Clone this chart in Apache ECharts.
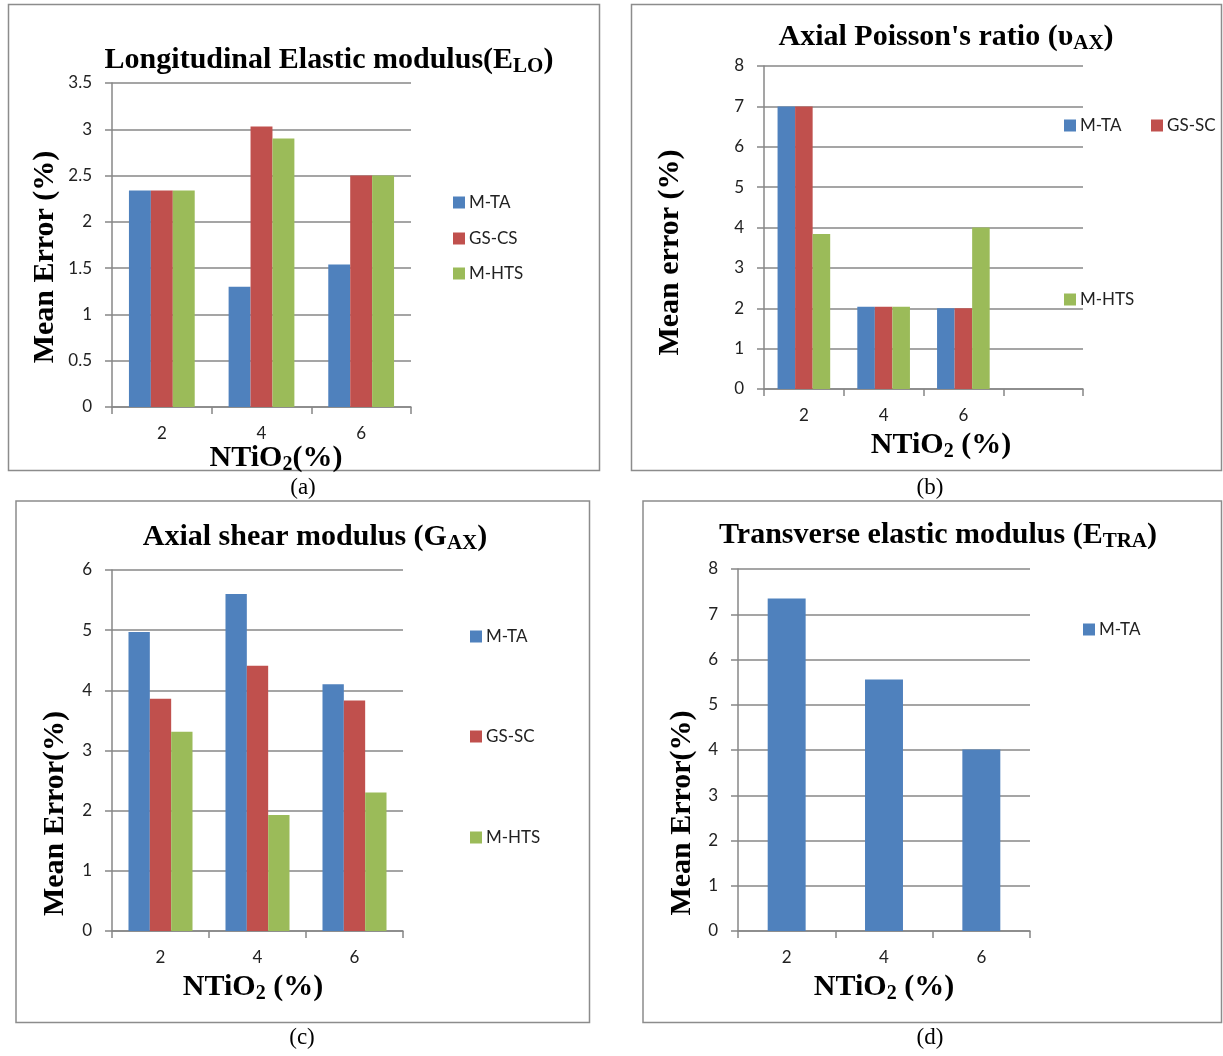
<!DOCTYPE html>
<html>
<head>
<meta charset="utf-8">
<script src="https://cdn.jsdelivr.net/npm/echarts@6/dist/echarts.min.js"></script>
<style>
  html, body { margin: 0; padding: 0; background: #fff; }
  #main { width: 1223px; height: 1056px; }
</style>
</head>
<body>
<div id="main"></div>
<script>
// categories (NTiO2 %)
var catsA = ['2', '4', '6'];
var catsB = ['2', '4', '6', ''];
var catsC = ['2', '4', '6'];
var catsD = ['2', '4', '6'];

// (a) Longitudinal Elastic modulus
var aMTA  = [2.34, 1.30, 1.54];
var aGSCS = [2.34, 3.03, 2.50];
var aMHTS = [2.34, 2.90, 2.50];
// (b) Axial Poisson's ratio
var bMTA  = [7.00, 2.04, 2.00, null];
var bGSSC = [7.00, 2.04, 2.00, null];
var bMHTS = [3.84, 2.04, 4.00, null];
// (c) Axial shear modulus
var cMTA  = [4.97, 5.60, 4.10];
var cGSSC = [3.86, 4.41, 3.83];
var cMHTS = [3.31, 1.93, 2.30];
// (d) Transverse elastic modulus
var dMTA  = [7.35, 5.56, 4.01];

var BLUE = '#4F81BD', RED = '#C0504D', GREEN = '#9BBB59';
var GRAY = '#878787';
var SERIF = 'Liberation Serif';
var SANS = 'Lato';

var chart = echarts.init(document.getElementById('main'));

function richTitle() {
  return {
    t: { fontFamily: SERIF, fontWeight: 'bold', fontSize: 30, color: '#000', lineHeight: 34 },
    s: { fontFamily: SERIF, fontWeight: 'bold', fontSize: 21, color: '#000', lineHeight: 18, verticalAlign: 'bottom' }
  };
}

function title(text, x, y) {
  return { text: text, left: x, top: y - 15, textAlign: 'center', padding: 0,
    textStyle: { rich: richTitle() } };
}
function caption(text, x, y) {
  return { text: text, left: x, top: y - 12, textAlign: 'center', padding: 0,
    textStyle: { fontFamily: SERIF, fontWeight: 'normal', fontSize: 23, color: '#000' } };
}

function yAx(gi, max, interval, name, gap, padRight) {
  return {
    type: 'value', gridIndex: gi, min: 0, max: max, interval: interval,
    axisLine: { show: true, lineStyle: { color: GRAY, width: 1.5 } },
    axisTick: { show: true, length: 7, lineStyle: { color: GRAY, width: 1.5 } },
    splitLine: { lineStyle: { color: GRAY, width: 1.5 } },
    axisLabel: { margin: 20, fontFamily: SANS, fontSize: 17, color: '#222' },
    name: name, nameLocation: 'middle', nameGap: gap, nameRotate: 90,
    nameTextStyle: { fontFamily: SERIF, fontWeight: 'bold', fontSize: 30, color: '#000',
      padding: [0, padRight, 0, 0] }
  };
}

function xAx(gi, data, name, gap, pad) {
  return {
    type: 'category', gridIndex: gi, data: data,
    axisLine: { lineStyle: { color: GRAY, width: 1.5 } },
    axisTick: { show: true, length: 7, lineStyle: { color: GRAY, width: 1.5 } },
    axisLabel: { margin: 18, interval: 0, fontFamily: SANS, fontSize: 17, color: '#222' },
    name: name, nameLocation: 'middle', nameGap: gap,
    nameTextStyle: {
      padding: pad,
      rich: {
        n: { fontFamily: SERIF, fontWeight: 'bold', fontSize: 30, color: '#000', lineHeight: 34 },
        s: { fontFamily: SERIF, fontWeight: 'bold', fontSize: 20, color: '#000', lineHeight: 18, verticalAlign: 'bottom' }
      }
    }
  };
}

function bar(name, gi, data, color, gap) {
  return {
    type: 'bar', name: name, xAxisIndex: gi, yAxisIndex: gi, data: data,
    barGap: 0, barCategoryGap: gap, itemStyle: { color: color }
  };
}

function leg(name, x, y) {
  return {
    data: [name], left: x, top: y - 10, padding: 0, selectedMode: false,
    itemWidth: 12, itemHeight: 12, itemGap: 4, icon: 'rect',
    textStyle: { fontFamily: SANS, fontSize: 17, color: '#222', padding: [0, 0, 0, -1] }
  };
}

function box(x1, y1, x2, y2) {
  return { type: 'rect', silent: true, z: -1,
    shape: { x: x1, y: y1, width: x2 - x1, height: y2 - y1 },
    style: { fill: 'none', stroke: '#8c8c8c', lineWidth: 1.5 } };
}

var option = {
  animation: false,
  backgroundColor: '#fff',
  title: [
    title('{t|Longitudinal Elastic modulus(E}{s|LO}{t|)}', 329, 58),
    title('{t|Axial Poisson\'s ratio (\u03c5}{s|AX}{t|)}', 946, 35),
    title('{t|Axial shear modulus (G}{s|AX}{t|)}', 315, 535),
    title('{t|Transverse elastic modulus (E}{s|TRA}{t|)}', 938, 533),
    caption('(a)', 303, 488),
    caption('(b)', 930, 488),
    caption('(c)', 302, 1038),
    caption('(d)', 930, 1038)
  ],
  grid: [
    { left: 112, top: 83, width: 299, height: 324 },
    { left: 764, top: 66, width: 319, height: 323 },
    { left: 112, top: 570, width: 291, height: 361 },
    { left: 738, top: 569, width: 292, height: 362 }
  ],
  xAxis: [
    xAx(0, catsA, '{n|NTiO}{s|2}{n|(%)}', 28, [0, 0, 0, 29]),
    xAx(1, catsB, '{n|NTiO}{s|2}{n| (%)}', 39, [0, 0, 0, 35]),
    xAx(2, catsC, '{n|NTiO}{s|2}{n| (%)}', 39, [0, 9, 0, 0]),
    xAx(3, catsD, '{n|NTiO}{s|2}{n| (%)}', 39, [0, 0, 0, 0])
  ],
  yAxis: [
    yAx(0, 3.5, 0.5, 'Mean Error (%)', 52, 24),
    yAx(1, 8, 1, 'Mean error (%)', 79, 50),
    yAx(2, 6, 1, 'Mean Error(%)', 42, 126),
    yAx(3, 8, 1, 'Mean Error(%)', 41, 126)
  ],
  legend: [
    leg('M-TA', 453, 204), leg('GS-CS', 453, 240), leg('M-HTS', 453, 275),
    leg('M-TA', 1064, 127), leg('GS-SC', 1151, 127), leg('M-HTS', 1064, 301),
    leg('M-TA', 470, 638), leg('GS-SC', 470, 738), leg('M-HTS', 470, 839),
    leg('M-TA', 1083, 631)
  ],
  series: [
    bar('M-TA', 0, aMTA, BLUE, '34%'),
    bar('GS-CS', 0, aGSCS, RED, '34%'),
    bar('M-HTS', 0, aMHTS, GREEN, '34%'),
    bar('M-TA', 1, bMTA, BLUE, '34%'),
    bar('GS-SC', 1, bGSSC, RED, '34%'),
    bar('M-HTS', 1, bMHTS, GREEN, '34%'),
    bar('M-TA', 2, cMTA, BLUE, '34%'),
    bar('GS-SC', 2, cGSSC, RED, '34%'),
    bar('M-HTS', 2, cMHTS, GREEN, '34%'),
    bar('M-TA', 3, dMTA, BLUE, '61%')
  ],
  graphic: [
    box(8.5, 4.5, 599.5, 470.5),
    box(631.5, 4.5, 1221.5, 470.5),
    box(16, 501, 589.5, 1022.5),
    box(643, 501, 1221.5, 1022.5)
  ]
};

chart.setOption(option);
</script>
</body>
</html>
